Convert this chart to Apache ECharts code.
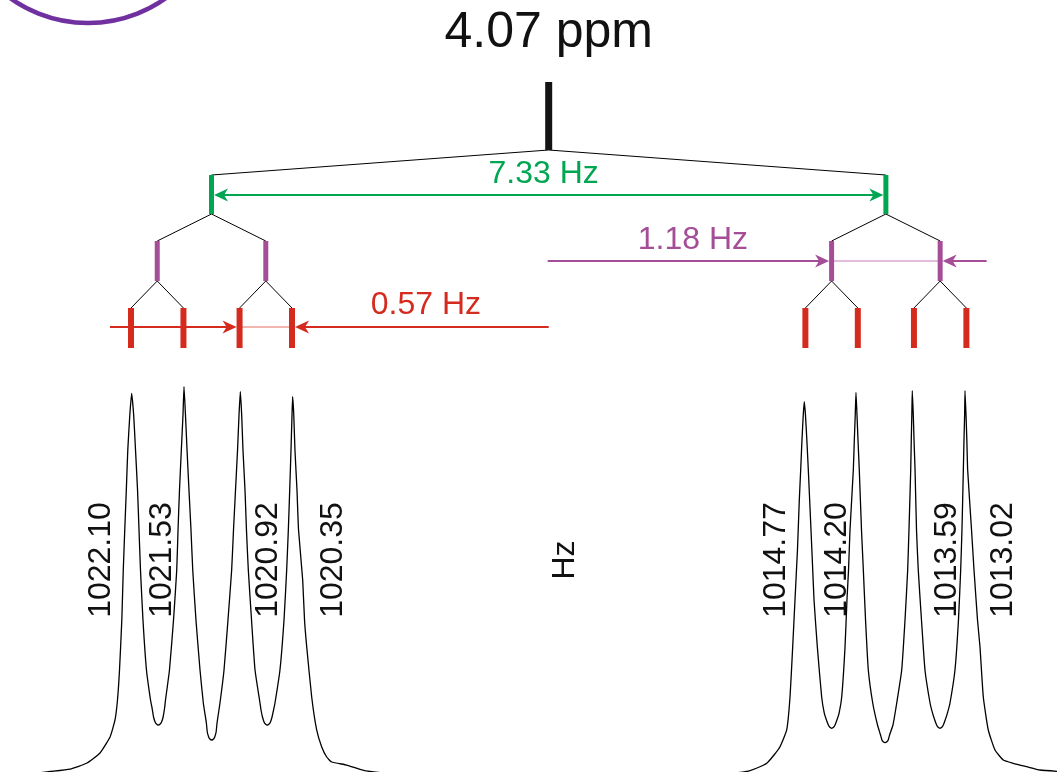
<!DOCTYPE html>
<html><head><meta charset="utf-8">
<script src="https://cdn.jsdelivr.net/npm/echarts/dist/echarts.min.js"></script>
<style>html,body{margin:0;padding:0;background:#fff}#c{width:1057px;height:772px}</style>
</head><body><div id="c"></div><script>
// ---------------- DATA ----------------
const shiftLabel = '4.07 ppm';
const axisUnit = 'Hz';
const peakHz = [1022.10, 1021.53, 1020.92, 1020.35, 1014.77, 1014.20, 1013.59, 1013.02];
const peakLabels = ['1022.10', '1021.53', '1020.92', '1020.35', '1014.77', '1014.20', '1013.59', '1013.02'];
const couplingLabels = ['7.33 Hz', '1.18 Hz', '0.57 Hz'];
// traced spectrum [Hz, intensity]
const spectrumLeft = [
 [1023.524,-0.8],[1023.089,-0.7],[1022.981,-0.4],[1022.763,0.26],[1022.578,1.85],[1022.437,4.50],
 [1022.328,8.74],[1022.274,13.25],[1022.247,18.55],[1022.225,26.49],[1022.200,39.74],[1022.184,52.99],
 [1022.168,63.58],[1022.151,74.18],[1022.135,84.78],[1022.113,94.05],[1022.093,99.80],[1022.071,94.05],
 [1022.051,84.78],[1022.029,74.18],[1022.013,63.58],[1021.997,52.99],[1021.970,39.74],[1021.932,26.49],
 [1021.888,18.55],[1021.871,16.42],[1021.855,14.04],[1021.838,12.71],[1021.823,12.19],[1021.803,11.92],
 [1021.783,12.19],[1021.768,12.71],[1021.751,14.04],[1021.735,16.42],[1021.725,18.55],[1021.682,26.49],
 [1021.638,39.74],[1021.603,52.99],[1021.589,63.58],[1021.573,74.18],[1021.553,84.78],[1021.535,94.05],
 [1021.524,101.55],[1021.508,94.05],[1021.491,84.78],[1021.470,74.18],[1021.448,63.58],[1021.429,52.99],
 [1021.394,39.74],[1021.350,26.49],[1021.314,17.75],[1021.281,12.45],[1021.271,10.07],[1021.256,8.74],
 [1021.243,8.21],[1021.223,7.95],[1021.203,8.21],[1021.190,8.74],[1021.175,10.07],[1021.165,12.45],
 [1021.133,17.75],[1021.089,26.49],[1021.046,39.74],[1021.006,52.99],
 [1020.986,63.58],[1020.964,74.18],[1020.942,84.78],[1020.926,94.05],[1020.912,100.23],[1020.897,94.05],
 [1020.883,84.78],[1020.861,74.18],[1020.845,63.58],[1020.825,52.99],[1020.790,39.74],[1020.752,26.49],
 [1020.698,17.75],[1020.685,15.63],[1020.671,14.04],[1020.654,12.71],[1020.639,12.19],[1020.619,11.92],
 [1020.599,12.19],[1020.584,12.71],[1020.567,14.04],[1020.553,15.63],[1020.535,17.75],[1020.481,26.49],
 [1020.437,39.74],[1020.408,52.99],[1020.390,63.58],[1020.375,74.18],[1020.361,84.78],[1020.350,94.05],
 [1020.343,98.90],[1020.331,94.05],[1020.318,84.78],[1020.296,74.18],[1020.279,63.58],[1020.234,50.34],
 [1020.214,39.74],[1020.190,32.59],[1020.136,19.34],[1020.082,10.60],[1020.027,6.09],[1019.973,3.44],
 [1019.919,2.12],[1019.756,1.32],[1019.611,0.19],[1019.502,-0.4],[1019.300,-0.8],[1018.850,-0.8]
];
const spectrumRight = [
 [1015.600,-0.8],[1015.408,-0.4],[1015.296,0.53],[1015.190,1.78],[1015.111,3.97],[1015.046,6.17],[1014.973,10.60],
 [1014.937,19.34],[1014.908,32.59],[1014.883,45.04],[1014.856,58.29],[1014.836,71.53],[1014.821,79.48],
 [1014.807,87.43],[1014.793,94.05],[1014.782,97.58],[1014.769,94.05],[1014.754,87.43],[1014.738,79.48],
 [1014.709,63.58],[1014.690,52.99],[1014.676,45.04],[1014.640,32.59],[1014.593,19.34],[1014.564,15.02],
 [1014.536,12.90],[1014.519,11.84],[1014.504,11.31],[1014.484,11.05],[1014.464,11.31],[1014.449,11.84],
 [1014.432,12.90],[1014.404,15.02],[1014.375,19.34],[1014.339,32.59],[1014.318,45.04],[1014.301,52.99],
 [1014.285,63.58],[1014.249,79.48],[1014.238,87.43],[1014.228,94.05],[1014.220,100.07],[1014.209,94.05],
 [1014.198,87.43],[1014.184,79.48],[1014.160,63.58],[1014.140,52.99],[1014.116,39.74],[1014.086,26.49],
 [1014.038,17.75],[1013.986,11.92],[1013.954,9.35],[1013.939,8.02],[1013.924,7.49],[1013.904,7.23],
 [1013.884,7.49],[1013.869,8.02],[1013.854,9.35],[1013.818,11.92],
 [1013.777,17.75],[1013.723,26.49],[1013.687,39.74],[1013.658,52.99],[1013.644,63.58],[1013.625,79.48],
 [1013.619,87.43],[1013.613,94.05],[1013.608,100.49],[1013.597,94.05],[1013.589,87.43],[1013.578,79.48],
 [1013.562,63.58],[1013.543,52.99],[1013.508,39.74],[1013.470,26.49],[1013.415,17.75],[1013.387,15.02],
 [1013.359,12.90],[1013.342,11.84],[1013.327,11.31],[1013.307,11.05],[1013.287,11.31],[1013.272,11.84],
 [1013.255,12.90],[1013.227,15.02],[1013.198,17.75],[1013.144,26.49],[1013.106,39.74],[1013.082,52.99],
 [1013.068,63.58],[1013.053,79.48],[1013.046,87.43],[1013.039,94.05],[1013.035,100.49],[1013.024,94.05],
 [1013.015,87.43],[1013.006,79.48],[1012.964,63.58],[1012.937,52.99],[1012.899,39.74],[1012.872,32.59],
 [1012.836,19.34],[1012.782,10.60],[1012.709,5.30],[1012.619,2.65],[1012.510,1.78],[1012.364,0.87],
 [1012.220,0],[1012.035,-0.34]
];

// ---------------- LAYOUT / STYLE ----------------
const FONT = '"Liberation Sans", Arial, Helvetica, sans-serif';
const C_GREEN = '#00a651', C_PURPLE = '#a54d97', C_RED = '#d52b1e', C_BLACK = '#141414';
const LY = {
  title: 33, top: [82, 150], green: [175, 214], purple: [241, 281], red: [308, 348],
  greenY: 195, purpleY: 261, redY: 327, labelY: 560
};
const labelDx = [-30, -21, 29, 41, -29, -21, 33, 37];

function mean(a) { return a.reduce((s, v) => s + v, 0) / a.length; }

function head(tx, y, dir, color) {
  const L = 14, H = 6.5, N = 10;
  return { type: 'polygon', shape: { points: [[tx, y], [tx - dir * L, y - H], [tx - dir * N, y], [tx - dir * L, y + H]] }, style: { fill: color } };
}
function seg(x1, y1, x2, y2, color, w) {
  return { type: 'line', shape: { x1, y1, x2, y2 }, style: { stroke: color, lineWidth: w } };
}
function stick(x, ys, w, color) {
  return { type: 'rect', shape: { x: x - w / 2, y: ys[0], width: w, height: ys[1] - ys[0] }, style: { fill: color } };
}
function txt(x, y, s, color, size, rot) {
  return { type: 'text', x, y, rotation: rot || 0,
    style: { text: s, fill: color, font: size + 'px ' + FONT, align: 'center', verticalAlign: 'middle' } };
}

function renderTree(params, api) {
  const px = hz => api.coord([hz, 0])[0];
  const l3 = peakHz;
  const l2 = [mean(l3.slice(0, 2)), mean(l3.slice(2, 4)), mean(l3.slice(4, 6)), mean(l3.slice(6, 8))];
  const l1 = [mean(l3.slice(0, 4)), mean(l3.slice(4, 8))];
  const l0 = mean(l3);
  const ch = [];
  const x0 = px(l0);
  ch.push(txt(x0, LY.title, shiftLabel, '#111', 50));
  l1.forEach(h => ch.push(seg(x0, LY.top[1], px(h), LY.green[0], '#000', 1)));
  l2.forEach((h, i) => ch.push(seg(px(l1[i >> 1]), LY.green[1], px(h), LY.purple[0], '#000', 1)));
  l3.forEach((h, i) => ch.push(seg(px(l2[i >> 1]), LY.purple[1], px(h), LY.red[0], '#000', 1)));
  const gL = px(l1[0]) + 2.5, gR = px(l1[1]) - 2.5;
  ch.push(seg(gL + 8, LY.greenY, gR - 8, LY.greenY, C_GREEN, 2));
  ch.push(head(gL, LY.greenY, -1, C_GREEN), head(gR, LY.greenY, 1, C_GREEN));
  ch.push(txt((px(l1[0]) + px(l1[1])) / 2 - 5, LY.greenY - 21, couplingLabels[0], C_GREEN, 32));
  const pA = px(l2[2]) - 2.5, pB = px(l2[3]) + 2.5;
  ch.push(seg(x0 - 1, LY.purpleY, pA - 8, LY.purpleY, C_PURPLE, 2));
  ch.push(seg(pA, LY.purpleY, pB, LY.purpleY, '#d9a8d0', 1.5));
  ch.push(seg(pB + 8, LY.purpleY, pB + 44, LY.purpleY, C_PURPLE, 2));
  ch.push(head(pA, LY.purpleY, 1, C_PURPLE), head(pB, LY.purpleY, -1, C_PURPLE));
  ch.push(txt((x0 + pA) / 2 + 4, LY.purpleY - 21, couplingLabels[1], C_PURPLE, 32));
  const rA = px(l3[2]) - 3, rB = px(l3[3]) + 3;
  ch.push(seg(px(l3[0]) - 21, LY.redY, rA - 8, LY.redY, C_RED, 2));
  ch.push(seg(rA, LY.redY, rB, LY.redY, '#ef9c94', 1.5));
  ch.push(seg(rB + 8, LY.redY, x0, LY.redY, C_RED, 2));
  ch.push(head(rA, LY.redY, 1, C_RED), head(rB, LY.redY, -1, C_RED));
  ch.push(txt((rB + x0) / 2 + 4, LY.redY - 22, couplingLabels[2], C_RED, 32));
  ch.push(stick(x0, LY.top, 7, C_BLACK));
  l1.forEach(h => ch.push(stick(px(h), LY.green, 5, C_GREEN)));
  l2.forEach(h => ch.push(stick(px(h), LY.purple, 5, C_PURPLE)));
  l3.forEach(h => ch.push(stick(px(h), LY.red, 6, C_RED)));
  l3.forEach((h, i) => ch.push(txt(px(h) + labelDx[i], LY.labelY, peakLabels[i], '#111', 32, Math.PI / 2)));
  ch.push(txt(x0 + 16, LY.labelY, axisUnit, '#111', 32, Math.PI / 2));
  return { type: 'group', children: ch };
}

const chart = echarts.init(document.getElementById('c'), null, { renderer: 'canvas' });
chart.setOption({
  animation: false,
  backgroundColor: '#fff',
  grid: { left: 0, right: 0, top: 0, bottom: 2, containLabel: false },
  xAxis: { type: 'value', inverse: true, min: 1012.035, max: 1023.524, show: false },
  yAxis: { type: 'value', min: 0, max: 204, show: false },
  graphic: [{ type: 'circle', shape: { cx: 88, cy: -111, r: 134 }, style: { fill: 'none', stroke: '#7030a0', lineWidth: 4.5 } }],
  series: [
    { type: 'line', data: spectrumLeft.concat(spectrumRight), showSymbol: false, symbol: 'none', clip: false,
      smooth: 0.15, lineStyle: { color: '#000', width: 1.3 } },
    { type: 'custom', data: [[mean(peakHz), 0]], renderItem: renderTree, clip: false, silent: true }
  ]
});
</script></body></html>
